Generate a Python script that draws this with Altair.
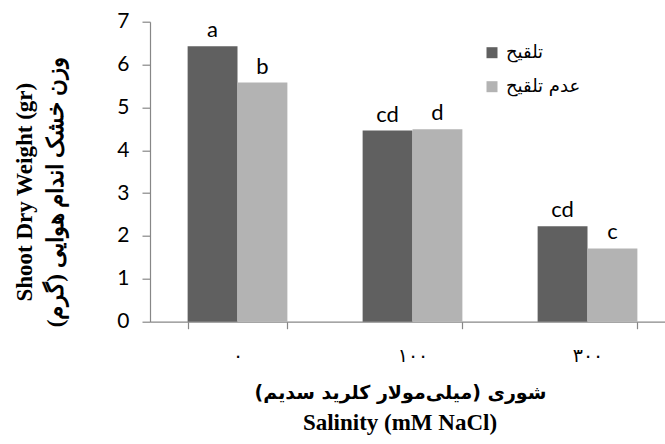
import altair as alt
import pandas as pd

# Shoot dry weight (g) by salinity level and inoculation treatment
salinity = ["۰", "۱۰۰", "۳۰۰"]
treatments = ["تلقیح", "عدم تلقیح"]
inoculated = [6.43, 4.46, 2.23]
non_inoculated = [5.58, 4.49, 1.71]
letters_inoculated = ["a", "cd", "cd"]
letters_non_inoculated = ["b", "d", "c"]
bar_colors = ["#606060", "#b3b3b3"]

rows = []
for values, letters, treatment in [
    (inoculated, letters_inoculated, treatments[0]),
    (non_inoculated, letters_non_inoculated, treatments[1]),
]:
    for s, v, l in zip(salinity, values, letters):
        rows.append({"salinity": s, "treatment": treatment, "weight": v, "letter": l})
df = pd.DataFrame(rows)

RLM = "\u200f"
AXIS_GREY = "#878787"
SERIF = "'Liberation Serif', 'Times New Roman', serif"

x_enc = alt.X(
    "salinity:N",
    sort=salinity,
    scale=alt.Scale(range=[0, 525], paddingInner=0.43, paddingOuter=0.215),
    axis=alt.Axis(
        title=RLM + "شوری (میلی\u200cمولار کلرید سدیم)" + RLM,
        titleX=250,
        titleY=71,
        titleBaseline="middle",
        titleFont="DejaVu Sans",
        titleFontWeight="bold",
        titleFontSize=19,
        titleColor="#000000",
        labelAngle=0,
        labelFont="DejaVu Sans",
        labelFontSize=19,
        labelColor="#000000",
        labelBaseline="middle",
        labelPadding=27,
        tickBand="extent",
        tickSize=7,
    ),
)

y_enc = alt.Y(
    "weight:Q",
    scale=alt.Scale(domain=[0, 7], nice=False, zero=True),
    axis=alt.Axis(
        values=[0, 1, 2, 3, 4, 5, 6, 7],
        title=["Shoot Dry Weight (gr)", RLM + "وزن خشک اندام هوایی (گرم)" + RLM],
        titleX=-126,
        titleY=170,
        titleAngle=-90,
        titleAlign="center",
        titleBaseline="middle",
        titleLineHeight=31,
        titleFont=SERIF,
        titleFontWeight="bold",
        titleFontSize=23,
        titleColor="#000000",
        labelFont="Lato",
        labelFontSize=21,
        labelColor="#000000",
        labelPadding=13,
        tickSize=8,
    ),
)

offset_enc = alt.XOffset(
    "treatment:N", sort=treatments, scale=alt.Scale(paddingInner=0, paddingOuter=0)
)

base = alt.Chart(df)

bars = base.mark_bar(strokeWidth=0).encode(
    x=x_enc,
    xOffset=offset_enc,
    y=y_enc,
    color=alt.Color(
        "treatment:N",
        sort=treatments,
        scale=alt.Scale(domain=treatments, range=bar_colors),
        legend=alt.Legend(
            title=None,
            orient="none",
            legendX=333,
            legendY=22,
            symbolType="square",
            symbolSize=121,
            symbolStrokeWidth=0,
            labelFont="DejaVu Sans",
            labelFontSize=18,
            labelColor="#000000",
            labelOffset=5,
            rowPadding=16,
        ),
    ),
)

letters = base.mark_text(
    font="Lato", fontSize=22, color="#000000", baseline="alphabetic", dy=-9
).encode(
    x=alt.X("salinity:N", sort=salinity),
    xOffset=alt.XOffset("treatment:N", sort=treatments),
    y="weight:Q",
    text="letter:N",
)

english_x_title = alt.Chart(pd.DataFrame({"label": ["Salinity (mM NaCl)"]})).mark_text(
    font=SERIF, fontWeight="bold", fontSize=23, color="#000000", baseline="middle"
).encode(x=alt.value(250), y=alt.value(401), text="label:N")

chart = (
    alt.layer(bars, letters, english_x_title)
    .properties(
        width=505,
        height=300,
        padding={"left": 150, "top": 21.7, "right": 10, "bottom": 122.3},
        autosize=alt.AutoSizeParams(type="none"),
        background="#ffffff",
    )
    .configure_view(stroke=None)
    .configure_axis(grid=False, domainColor=AXIS_GREY, tickColor=AXIS_GREY, domainWidth=1.2, tickWidth=1.2)
)

chart.save("out.html", embed_options={"renderer": "svg", "actions": False})
